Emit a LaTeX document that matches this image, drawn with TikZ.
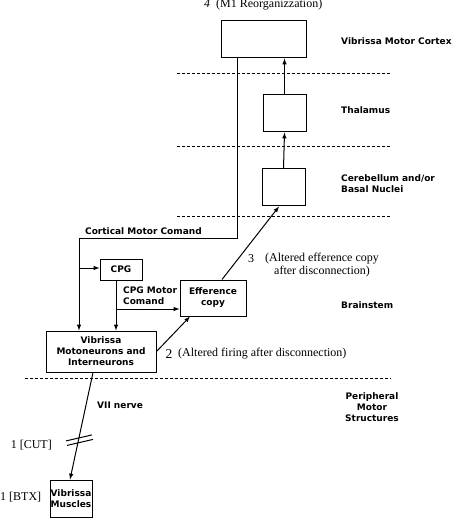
\documentclass[tikz,border=0pt]{standalone}
\usepackage{fontspec}
\setmainfont{Liberation Serif}
\setsansfont{DejaVu Sans}
\usetikzlibrary{positioning}
\tikzset{
	every node/.style = {inner sep=0pt},
	lab/.style = {font=\sffamily\bfseries\fontsize{9}{11}\selectfont, align=center},
	note/.style = {font=\fontsize{12}{13}\selectfont, align=center},
	box/.style = {draw, line width=1pt, lab, minimum width=#1},
	box/.default = {43pt},
	sep/.style = {dash pattern=on 3pt off 2pt, line width=0.6pt},
	wire/.style = {line width=1pt}
}
\begin{document}
\begin{tikzpicture}[x=1pt, y=-1pt, >=latex]
		\useasboundingbox (0,0) rectangle (454,518);
		% boxes
		\node[box=85pt, minimum height=37pt] (vmc) at (263.5,39.5) {};
		\node[box, minimum height=37pt] (thal) at (284.5,113.5) {};
		\node[box, minimum height=37pt] (cereb) at (283.5,187.5) {};
		\node[box=42pt, minimum height=21pt] (cpg) at (121,269.5) {CPG};
		\node[box=66pt, minimum height=36pt] (eff) at (213,298) {Efference\\copy};
		\node[box=110pt, minimum height=41pt] (moto) at (101,351.5) {Vibrissa\\Motoneurons and\\Interneurons};
		\node[box=42pt, minimum height=37pt] (musc) at (71,498.5) {Vibrissa\\Muscles};
		% levels
		\draw[sep] (177,73) -- (391,73);
		\draw[sep] (177,146) -- (391,146);
		\draw[sep] (177,216) -- (391,216);
		\draw[sep] (25,378) -- (391,378);
		\node[lab, anchor=west] (lvmc) at (341,41) {Vibrissa Motor Cortex};
		\node[lab, anchor=west] (lthal) at (341,110) {Thalamus};
		\node[lab, anchor=west, align=left] (lcereb) at (341,184) {Cerebellum and/or\\Basal Nuclei};
		\node[lab, anchor=west] (lbrain) at (341,305) {Brainstem};
		\node[lab] (lperi) at (372,407) {Peripheral\\Motor\\Structures};
		% cortical motor comand
		\coordinate (cortr) at (237,238);
		\coordinate (cortl) at (79,238);
		\draw[wire] (vmc.south -| cortr) -- (cortr) -- (cortl);
		\draw[wire, ->] (cortl) -- (moto.north -| cortl);
		\draw[wire, ->] (cortl |- 0,268) -- (cpg.west |- 0,268);
		\node[lab, anchor=west] (lcort) at (85,231) {Cortical Motor Comand};
		% cpg motor comand
		\coordinate (cpgb) at (116,309);
		\draw[wire, ->] (cpg.south -| cpgb) -- (moto.north -| cpgb);
		\draw[wire, ->] (cpgb) -- (eff.west |- cpgb);
		\node[lab, anchor=west, align=left] (lcpg) at (123,296) {CPG Motor\\Comand};
		% ascending
		\draw[wire, ->] (thal.north) -- (vmc.south -| thal.north);
		\draw[wire, ->] (cereb.north) -- (thal.south);
		\draw[wire, ->] ([xshift=9pt]eff.north) -- ([xshift=-4.5pt]cereb.south);
		\draw[wire, ->] (moto.east) -- ([xshift=-23pt]eff.south);
		% VII nerve
		\draw[wire, ->] ([xshift=-8pt]moto.south) -- ([xshift=-1pt]musc.north)
		      coordinate[pos=0.63] (cut);
		\draw[wire] ([shift={(-12.5,1)}]cut) -- ([shift={(13.5,-5)}]cut);
		\draw[wire] ([shift={(-11.5,5.5)}]cut) -- ([shift={(14.5,-0.5)}]cut);
		\node[lab, anchor=west] (lnerve) at (97,405) {VII nerve};
		% numbered notes
		\node[note, anchor=east] (ncut) at (52,445) {1 [CUT]};
		\node[note, anchor=west] (nbtx) at (0,497) {1 [BTX]};
		\node[note, font=\fontsize{13.5}{14}\selectfont] (ntwo) at (169,354) {2};
		\node[note, anchor=west] (nfire) at (178,354) {(Altered firing after disconnection)};
		\node[note] (nthree) at (251,259) {3};
		\node[note] (neff) at (322,265.5) {(Altered efference copy\\after disconnection)};
		\node[note, anchor=west] (nfour) at (204,5) {\textit{4}\enspace(M1 Reorganizzation)};
	\end{tikzpicture}
\end{document}
